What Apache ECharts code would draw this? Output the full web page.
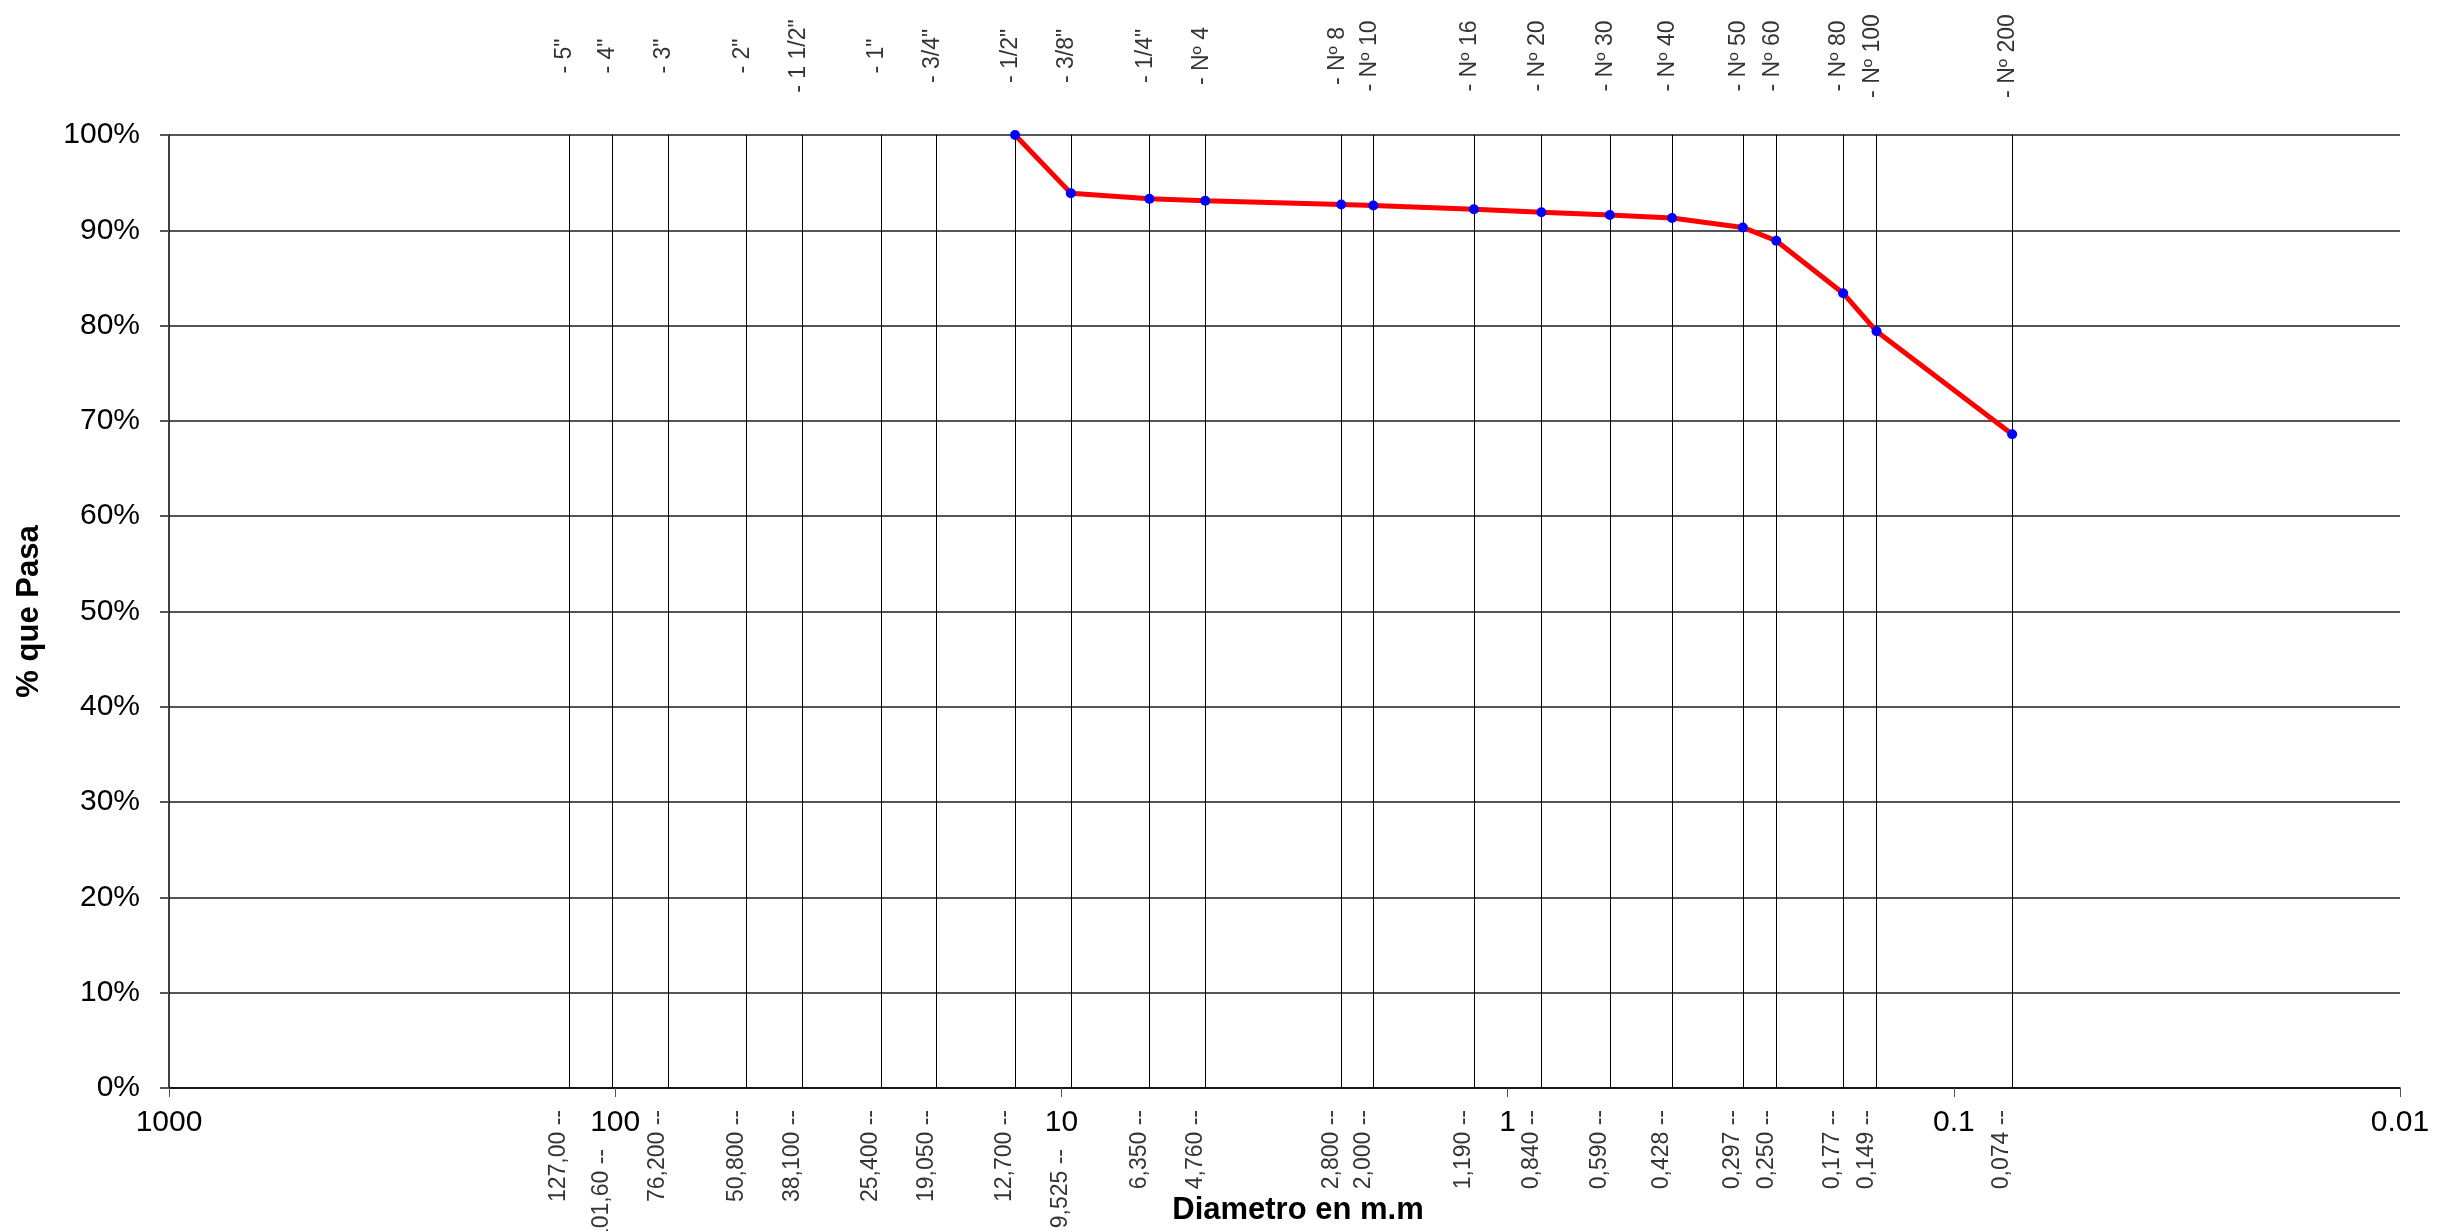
<!DOCTYPE html>
<html>
<head>
<meta charset="utf-8">
<script src="https://cdn.jsdelivr.net/npm/echarts@6/dist/echarts.min.js"></script>
<style>
html,body{margin:0;padding:0;background:#fff;}
#chart{width:2458px;height:1231px;}
</style>
</head>
<body>
<div id="chart"></div>
<script>
// Sieve openings (mm, as plotted) and their names
const sieveSizes = [127.0, 101.6, 76.2, 50.8, 38.1, 25.4, 19.05, 12.7, 9.525, 6.35, 4.76, 2.36, 2.0, 1.19, 0.84, 0.59, 0.428, 0.297, 0.25, 0.177, 0.149, 0.074];
const sieveNames = ['- 5"', '- 4"', '- 3"', '- 2"', '- 1 1/2"', '- 1"', '- 3/4"', '- 1/2"', '- 3/8"', '- 1/4"', '- Nº 4', '- Nº 8', '- Nº 10', '- Nº 16', '- Nº 20', '- Nº 30', '- Nº 40', '- Nº 50', '- Nº 60', '- Nº 80', '- Nº 100', '- Nº 200'];
const sizeLabels = ['127,00 --', '101,60 --', '76,200 --', '50,800 --', '38,100 --', '25,400 --', '19,050 --', '12,700 --', '9,525 --', '6,350 --', '4,760 --', '2,800 --', '2,000 --', '1,190 --', '0,840 --', '0,590 --', '0,428 --', '0,297 --', '0,250 --', '0,177 --', '0,149 --', '0,074 --'];
// Test result: percent passing
const testSizes = [12.7, 9.525, 6.35, 4.76, 2.36, 2.0, 1.19, 0.84, 0.59, 0.428, 0.297, 0.25, 0.177, 0.149, 0.074];
const percentPassing = [100, 93.9, 93.3, 93.1, 92.7, 92.6, 92.2, 91.9, 91.6, 91.3, 90.3, 88.9, 83.4, 79.4, 68.6];
// size labels that sit lower to avoid the decade tick labels
const loweredLabels = ['101,60 --', '9,525 --'];

const FONT = "'Liberation Sans', Arial, sans-serif";
const chart = echarts.init(document.getElementById('chart'), null, {renderer: 'canvas'});

const topData = sieveSizes.map((s, i) => ({value: [s, 100], name: sieveNames[i]}));
const bottomData = sieveSizes.map((s, i) => ({
  value: [s, 0],
  name: sizeLabels[i],
  label: {position: loweredLabels.includes(sizeLabels[i]) ? [-9, 62] : [-9, 23]}
}));

const option = {
  backgroundColor: '#ffffff',
  animation: false,
  grid: {left: 169, right: 58, top: 135, bottom: 141, containLabel: false},
  xAxis: {
    type: 'log', logBase: 10, min: 0.01, max: 1000, inverse: true,
    name: 'Diametro en m.m', nameLocation: 'middle', nameGap: 107,
    nameTextStyle: {fontFamily: FONT, fontSize: 31, fontWeight: 'bold', color: '#000', padding: [0, 0, 0, 27]},
    axisLine: {show: true, onZero: false, lineStyle: {color: '#000', width: 1.5}},
    axisTick: {show: true, length: 9, lineStyle: {color: '#555', width: 1}},
    minorTick: {show: false},
    splitLine: {show: false},
    axisLabel: {fontFamily: FONT, fontSize: 30, color: '#000', margin: 20,
      formatter: v => String(+Number(v).toPrecision(6))}
  },
  yAxis: {
    type: 'value', min: 0, max: 100, interval: 10,
    name: '% que Pasa', nameLocation: 'middle', nameGap: 124, nameRotate: 90,
    nameTextStyle: {fontFamily: FONT, fontSize: 31, fontWeight: 'bold', color: '#000'},
    axisLine: {show: true, lineStyle: {color: '#000', width: 1.5}},
    axisTick: {show: true, length: 9, lineStyle: {color: '#555', width: 2}},
    splitLine: {show: true, lineStyle: {color: '#555', width: 2}},
    axisLabel: {fontFamily: FONT, fontSize: 30, color: '#000', margin: 29, formatter: '{value}%'}
  },
  series: [
    {
      name: 'sieves', type: 'line', data: [], silent: true, z: 1,
      markLine: {
        silent: true, symbol: ['none', 'none'], animation: false, precision: 6,
        label: {show: false},
        lineStyle: {color: '#000', width: 1, type: 'solid'},
        emphasis: {disabled: true},
        data: sieveSizes.map(s => ({xAxis: s}))
      }
    },
    {
      name: 'topLabels', type: 'scatter', data: topData, symbolSize: 2, z: 2, silent: true,
      itemStyle: {color: 'rgba(0,0,0,0)'},
      label: {show: true, formatter: p => p.name, rotate: 90, position: [-3, -78],
        align: 'center', verticalAlign: 'middle', fontFamily: FONT, fontSize: 23, color: '#000'}
    },
    {
      name: 'bottomLabels', type: 'scatter', data: bottomData, symbolSize: 2, z: 2, silent: true,
      itemStyle: {color: 'rgba(0,0,0,0)'},
      label: {show: true, formatter: p => p.name, rotate: 90,
        align: 'right', verticalAlign: 'middle', fontFamily: FONT, fontSize: 23, color: '#000'}
    },
    {
      name: '% que Pasa', type: 'line', z: 5,
      data: testSizes.map((s, i) => [s, percentPassing[i]]),
      symbol: 'circle', symbolSize: 10, showSymbol: true,
      lineStyle: {color: '#ff0000', width: 5},
      itemStyle: {color: '#0000ff', borderWidth: 0}
    }
  ]
};
chart.setOption(option);
</script>
</body>
</html>
